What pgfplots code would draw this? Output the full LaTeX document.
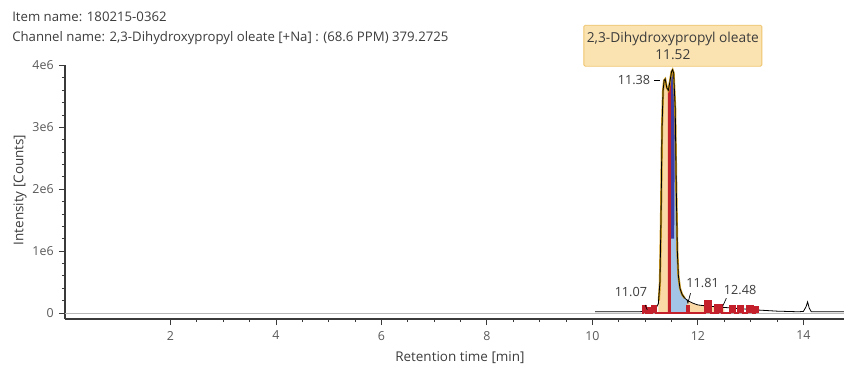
\documentclass[border=0pt]{standalone}
\usepackage{fontspec}
\setmainfont{Open Sans}
\usepackage{pgfplots}
\pgfplotsset{compat=1.18}
\definecolor{txt}{HTML}{3C3C3C}
\definecolor{axc}{HTML}{3A3A3A}
\definecolor{peakor}{HTML}{FAD9A6}
\definecolor{peakred}{HTML}{C4202C}
\definecolor{peakblue}{HTML}{A3C4E6}
\definecolor{peakdblue}{HTML}{3B3FA6}
\definecolor{gold}{HTML}{C9961A}
\definecolor{boxfill}{HTML}{FBE3B1}
\definecolor{boxdraw}{HTML}{EEC46E}
\pgfplotstableread{
x y
10.05 0.02
10.50 0.02
10.90 0.02
10.98 0.03
11.02 0.05
11.05 0.03
11.10 0.04
11.15 0.05
11.20 0.07
11.25 0.15
11.28 0.50
11.30 1.50
11.32 3.00
11.34 3.60
11.36 3.76
11.38 3.78
11.41 3.64
11.44 3.60
11.47 3.74
11.50 3.90
11.52 3.93
11.54 3.88
11.57 3.30
11.59 2.00
11.61 1.00
11.63 0.60
11.66 0.40
11.70 0.30
11.75 0.24
11.81 0.20
11.90 0.16
12.00 0.13
12.20 0.11
12.50 0.09
12.80 0.07
13.10 0.05
13.50 0.03
13.90 0.02
14.00 0.025
14.05 0.10
14.08 0.18
14.11 0.08
14.15 0.02
14.77 0.02
}\trace
\begin{document}
\begin{tikzpicture}
\useasboundingbox (-48.75pt,-37.5pt) rectangle (584.25pt,239.25pt);
\node[anchor=west, font=\fontsize{9.9}{12}\selectfont, text=txt, inner sep=0pt] at (-39.75pt,226.5pt) {Item name: 180215-0362};
\node[anchor=west, font=\fontsize{9.9}{12}\selectfont, text=txt, inner sep=0pt] at (-39.75pt,210.75pt) {Channel name: 2,3-Dihydroxypropyl oleate [+Na] : (68.6 PPM) 379.2725};
\begin{axis}[
  at={(0,0)}, anchor=south west,
  scale only axis, width=584.25pt, height=190.125pt,
  xmin=0, xmax=14.77, ymin=-0.097, ymax=4.0,
  axis x line=bottom, axis y line=left,
  axis line style={-, line width=1.6pt, color=axc},
  clip=false,
  xtick={2,4,...,14}, minor x tick num=3,
  ytick={0,1,2,3,4}, yticklabels={0,1e6,2e6,3e6,4e6}, minor y tick num=4,
  tick align=outside,
  major tick length=4.5pt, minor tick length=2.4pt,
  every tick/.style={color=axc, line width=0.7pt},
  /pgf/number format/assume math mode=true,
  tick label style={font=\fontsize{9.3}{11}\selectfont, text=txt!85},
  xticklabel style={yshift=-1pt},
  yticklabel style={xshift=-0.5pt},
  xlabel={Retention time [min]}, ylabel={Intensity [Counts]},
  label style={font=\fontsize{10.1}{12}\selectfont, text=txt},
  xlabel style={at={(axis description cs:0.507,-0.1538)}, anchor=center},
  ylabel style={at={(axis description cs:-0.0578,0.509)}, anchor=center},
]
% zero line
\addplot[gray!55, line width=0.6pt] coordinates {(0,0) (14.77,0)};
% peak fills
\addplot[draw=none, fill=peakor] coordinates {(11.25,0) (11.25,0.15) (11.28,0.50) (11.30,1.50) (11.32,3.00) (11.34,3.60) (11.36,3.76) (11.38,3.78) (11.41,3.64) (11.43,3.60) (11.43,0)} -- cycle;
\addplot[draw=none, fill=peakred] coordinates {(11.43,0) (11.43,3.60) (11.44,3.60) (11.47,3.74) (11.49,3.85) (11.49,0)} -- cycle;
\addplot[draw=none, fill=peakblue] coordinates {(11.49,0) (11.49,3.85) (11.50,3.90) (11.52,3.93) (11.54,3.88) (11.57,3.30) (11.59,2.00) (11.61,1.00) (11.63,0.60) (11.66,0.40) (11.70,0.30) (11.75,0.24) (11.80,0.20) (11.80,0)} -- cycle;
\addplot[draw=none, fill=peakdblue] coordinates {(11.49,1.2) (11.49,3.85) (11.50,3.90) (11.52,3.93) (11.54,3.88) (11.565,3.40) (11.55,1.2)} -- cycle;
\addplot[draw=none, fill=peakor] coordinates {(11.80,0) (11.80,0.20) (11.90,0.16) (12.00,0.13) (12.20,0.11) (12.50,0.09) (12.50,0)} -- cycle;
% gold outline
\addplot[gold, line width=1.6pt] coordinates {(11.26,0.2) (11.28,0.50) (11.30,1.50) (11.32,3.00) (11.34,3.60) (11.36,3.76) (11.38,3.78) (11.41,3.64) (11.44,3.60) (11.47,3.74) (11.50,3.90) (11.52,3.93) (11.54,3.88) (11.57,3.30) (11.59,2.00) (11.61,1.00) (11.63,0.60) (11.66,0.40) (11.70,0.30) (11.75,0.24)};
% black trace
\addplot[black, line width=0.6pt] table[x=x,y=y] {\trace};
% red integration comb
\addplot[peakred, fill=peakred, line width=1.5pt] coordinates {
(10.94,0) (10.96,0) (10.96,0.11) (11.02,0.11) (11.02,0)
(11.05,0) (11.05,0.08) (11.10,0.08) (11.10,0)
(11.13,0) (11.13,0.11) (11.20,0.11) (11.20,0)
(11.79,0) (11.79,0.12) (11.84,0.12) (11.84,0)
(12.13,0) (12.13,0.20) (12.25,0.20) (12.25,0)
(12.32,0) (12.32,0.13) (12.36,0.13) (12.36,0)
(12.39,0) (12.39,0.13) (12.45,0.13) (12.45,0)
(12.61,0) (12.61,0.12) (12.70,0.12) (12.70,0)
(12.76,0) (12.76,0.12) (12.85,0.12) (12.85,0)
(12.94,0) (12.94,0.11) (13.04,0.11) (13.04,0)
(13.08,0) (13.08,0.10) (13.14,0.10) (13.14,0)};
% apex markers
\addplot[black, line width=0.5pt] coordinates {(11.00,0.13) (11.04,0.05)};
\addplot[black, line width=0.5pt] coordinates {(11.79,0.22) (11.81,0.16) (11.86,0.32)};
\addplot[black, line width=0.5pt] coordinates {(12.47,0.11) (12.54,0.24)};
\addplot[black, line width=0.8pt] coordinates {(11.17,3.76) (11.29,3.76)};
% labels
\node[anchor=east, font=\fontsize{9.5}{11}\selectfont, text=txt, inner sep=0pt] at (axis cs:11.10,3.76) {11.38};
\node[font=\fontsize{9.5}{11}\selectfont, text=txt, inner sep=0pt] at (axis cs:10.73,0.34) {11.07};
\node[font=\fontsize{9.5}{11}\selectfont, text=txt, inner sep=0pt] at (axis cs:12.09,0.48) {11.81};
\node[font=\fontsize{9.5}{11}\selectfont, text=txt, inner sep=0pt] at (axis cs:12.80,0.37) {12.48};
\node[fill=boxfill, draw=boxdraw, line width=0.6pt, rounded corners=1pt, minimum width=133.5pt, minimum height=30.75pt, inner sep=1pt, align=center, font=\fontsize{10.3}{12.5}\selectfont, text=txt] at (axis cs:11.525,4.32) {2,3-Dihydroxypropyl oleate\\11.52};
\end{axis}
\end{tikzpicture}
\end{document}
